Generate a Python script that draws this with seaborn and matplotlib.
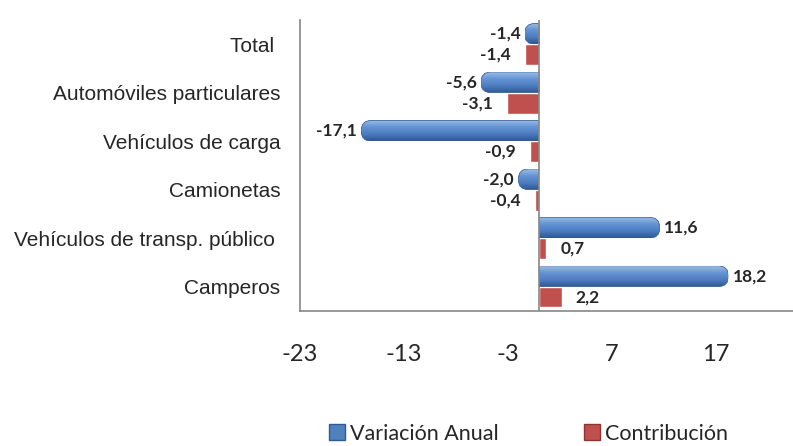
import matplotlib.pyplot as plt
import seaborn as sns
import pandas as pd
import numpy as np
from matplotlib.colors import LinearSegmentedColormap
from matplotlib.patches import FancyBboxPatch, Patch

# data
categorias = ["Total ", "Automóviles particulares", "Vehículos de carga",
              "Camionetas", "Vehículos de transp. público ", "Camperos"]
variacion_anual = [-1.4, -5.6, -17.1, -2.0, 11.6, 18.2]
contribucion = [-1.4, -3.1, -0.9, -0.4, 0.7, 2.2]
x_ticks = [-23, -13, -3, 7, 17]

series = ["Variación Anual", "Contribución"]
df = pd.DataFrame({
    "Categoria": categorias * 2,
    "Valor": variacion_anual + contribucion,
    "Serie": [series[0]] * len(categorias) + [series[1]] * len(categorias),
})

blue = "#4F81BD"
red = "#C0504D"

sns.set_style("white")
plt.rcParams["font.family"] = ["Liberation Sans", "DejaVu Sans"]

fig = plt.figure(figsize=(7.93, 4.46), dpi=100)
ax_pos = [0.378, 0.303, 0.622, 0.652]
ax = fig.add_axes(ax_pos)

sns.barplot(data=df, y="Categoria", x="Valor", hue="Serie", order=categorias,
            hue_order=series, palette={series[0]: blue, series[1]: red},
            orient="h", width=0.86, saturation=1, legend=False, ax=ax)

xlim = (-23, 24.4)
ax.set_xlim(*xlim)
ylim = ax.get_ylim()

# cylinder look for the blue bars: rounded outer end + vertical gradient
cyl = LinearSegmentedColormap.from_list("cyl", ["#9BBCE6", "#6393D3", "#4C7DC0", "#2E5790"])
grad = np.linspace(0, 1, 64).reshape(-1, 1)
px_x = ax_pos[2] * 793 / (xlim[1] - xlim[0])
px_y = ax_pos[3] * 446 / abs(ylim[1] - ylim[0])
aspect = px_x / px_y
for bar in list(ax.containers[0]):
    x0, y0 = bar.get_x(), bar.get_y()
    w, h = bar.get_width(), bar.get_height()
    left, right = min(x0, x0 + w), max(x0, x0 + w)
    r = min(1.0, (right - left))
    # extend past zero so only the outer end looks rounded
    if w < 0:
        fl, fr = left, right + r
    else:
        fl, fr = left - r, right
    fb = FancyBboxPatch((fl, y0), fr - fl, h,
                        boxstyle=f"round,pad=0,rounding_size={r}",
                        mutation_aspect=aspect, facecolor="none",
                        edgecolor="#3A6398", linewidth=0.6, zorder=3)
    ax.add_patch(fb)
    fb.set_clip_path(bar)
    im = ax.imshow(grad, cmap=cyl, aspect="auto",
                   extent=(left, right, y0 + h, y0), zorder=2)
    im.set_clip_path(fb)
    bar.set_facecolor("none")
    bar.set_edgecolor("none")

ax.set_xlim(*xlim)
ax.set_ylim(*ylim)

fmt = lambda v: f"{v:.1f}".replace(".", ",")
lab_font = ["Lato", "DejaVu Sans"]
ax.bar_label(ax.containers[0], labels=[fmt(v) for v in variacion_anual], padding=3,
             fontsize=12.5, fontweight="bold", family=lab_font)
ax.bar_label(ax.containers[1], labels=[fmt(v) for v in contribucion], padding=10,
             fontsize=12.5, fontweight="bold", family=lab_font)

ax.axvline(0, color="#868686", linewidth=1.2, zorder=4)
ax.set_xticks(x_ticks)
ax.set_xticklabels([str(t) for t in x_ticks], fontsize=17, family=lab_font)
ax.tick_params(axis="x", length=0, pad=24)
ax.tick_params(axis="y", length=0, pad=14, labelsize=15)
ax.set_xlabel("")
ax.set_ylabel("")

sns.despine(ax=ax, top=True, right=True)
for s in ("left", "bottom"):
    ax.spines[s].set_color("#868686")
    ax.spines[s].set_linewidth(1.2)

handles = [Patch(facecolor=blue, edgecolor="#2F5A93", label=series[0]),
           Patch(facecolor=red, edgecolor="#8E3533", label=series[1])]
fig.legend(handles=handles, loc="lower left", bbox_to_anchor=(0.39, -0.038),
           ncol=2, frameon=False, handlelength=0.75, handleheight=0.75,
           handletextpad=0.25, columnspacing=3.95,
           prop={"family": lab_font, "size": 15.5})

fig.savefig("out.png", dpi=100)
